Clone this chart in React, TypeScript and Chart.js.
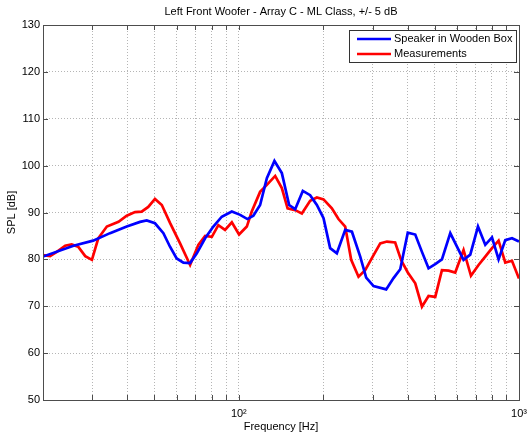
import React, { useEffect, useRef } from 'react';
import { Chart, registerables } from 'chart.js';

Chart.register(...registerables);

// ---- Data ----
const blueFreq = [20.0, 25.7, 30.2, 34.7, 39.8, 44.4, 46.9, 50.2, 53.8, 56.8, 60.0, 63.4, 67.0, 70.8, 75.8, 81.1, 86.9, 94.4, 101.1, 107.3, 112.7, 119.1, 125.9, 134.0, 142.4, 151.2, 158.9, 169.2, 179.7, 189.9, 200.6, 211.8, 223.8, 239.7, 253.3, 271.2, 284.8, 302.6, 335.7, 356.6, 376.8, 400.9, 426.3, 450.4, 475.5, 502.4, 530.8, 568.4, 600.6, 634.0, 670.0, 713.8, 757.9, 801.0, 845.5, 893.4, 944.0, 1000.0];
const blueSpl = [80.6, 82.9, 84.0, 85.6, 87.0, 88.0, 88.3, 87.7, 85.6, 82.7, 80.2, 79.3, 79.2, 81.3, 84.5, 87.0, 89.1, 90.2, 89.5, 88.6, 89.3, 91.6, 97.3, 101.0, 98.4, 91.6, 90.7, 94.6, 93.7, 91.6, 88.8, 82.4, 81.3, 86.3, 85.9, 80.6, 76.1, 74.3, 73.6, 76.0, 77.9, 85.7, 85.3, 81.6, 78.1, 79.0, 80.0, 85.6, 82.7, 79.9, 81.0, 87.0, 83.1, 84.7, 80.0, 84.1, 84.5, 83.8];

const redFreq = [20.0, 21.2, 22.4, 24.0, 25.3, 26.7, 28.3, 29.9, 31.5, 33.8, 37.2, 39.8, 42.6, 45.0, 47.5, 50.2, 53.1, 56.8, 61.7, 67.0, 71.7, 75.8, 80.1, 84.5, 89.3, 94.4, 100.2, 106.8, 111.2, 119.1, 125.9, 134.8, 142.4, 149.3, 158.9, 167.9, 179.7, 189.9, 200.6, 214.8, 226.8, 239.7, 251.8, 267.4, 282.5, 302.6, 319.7, 337.8, 361.4, 379.8, 400.9, 426.3, 450.4, 475.5, 502.4, 530.8, 560.5, 592.1, 634.0, 673.8, 717.2, 757.9, 801.0, 845.5, 893.4, 944.0, 1000.0];
const redSpl = [80.9, 80.7, 81.6, 82.9, 83.2, 82.7, 80.7, 79.9, 84.5, 87.0, 88.0, 89.3, 90.1, 90.2, 91.2, 92.9, 91.6, 87.8, 83.4, 78.8, 83.1, 85.0, 84.8, 87.3, 86.3, 87.9, 85.3, 87.0, 90.2, 94.4, 95.9, 97.8, 95.2, 90.9, 90.5, 89.8, 92.5, 93.2, 92.8, 90.9, 88.6, 87.0, 79.9, 76.3, 77.7, 80.9, 83.4, 83.8, 83.6, 79.8, 77.2, 74.9, 69.9, 72.2, 72.0, 77.7, 77.6, 77.2, 82.0, 76.5, 78.8, 80.6, 82.4, 84.0, 79.3, 79.7, 75.9];

const xTicks = [20, 30, 40, 50, 60, 70, 80, 90, 100, 200, 300, 400, 500, 600, 700, 800, 900, 1000];
const xTickLabels: Record<number, string> = { 100: '10\u00B2', 1000: '10\u00B3' };
const yTicks = [50, 60, 70, 80, 90, 100, 110, 120, 130];

const seriesNames = ['Speaker in Wooden Box', 'Measurements'];
const seriesColors = ['#0000ff', '#ff0000'];
const titleText = 'Left Front Woofer - Array C - ML Class, +/- 5 dB';
const xTitle = 'Frequency [Hz]';
const yTitle = 'SPL [dB]';

const FONT_FAMILY = '"Liberation Sans", Arial, Helvetica, sans-serif';
const FONT_SIZE = 11;

const decorPlugin = {
  id: 'decor',
  afterDraw(chart: any) {
    const { ctx, chartArea: a, scales } = chart;
    const xs = scales.x;
    const ys = scales.y;
    ctx.save();
    // axes box
    ctx.strokeStyle = '#4d4d4d';
    ctx.lineWidth = 1;
    ctx.strokeRect(Math.round(a.left) + 0.5, Math.round(a.top) + 0.5, Math.round(a.right - a.left), Math.round(a.bottom - a.top));
    // inward ticks
    ctx.beginPath();
    const tl = 5;
    xTicks.forEach((v) => {
      const px = Math.round(xs.getPixelForValue(v)) + 0.5;
      ctx.moveTo(px, a.bottom);
      ctx.lineTo(px, a.bottom - tl);
      ctx.moveTo(px, a.top);
      ctx.lineTo(px, a.top + tl);
    });
    yTicks.forEach((v) => {
      const py = Math.round(ys.getPixelForValue(v)) + 0.5;
      ctx.moveTo(a.left, py);
      ctx.lineTo(a.left + tl, py);
      ctx.moveTo(a.right, py);
      ctx.lineTo(a.right - tl, py);
    });
    ctx.stroke();

    // texts
    ctx.fillStyle = '#000';
    ctx.font = `${FONT_SIZE}px ${FONT_FAMILY}`;
    ctx.textAlign = 'center';
    ctx.textBaseline = 'middle';
    const cx = (a.left + a.right) / 2;
    ctx.fillText(titleText, cx, 12);
    ctx.fillText(xTitle, cx, 427);
    ctx.save();
    ctx.translate(12, (a.top + a.bottom) / 2);
    ctx.rotate(-Math.PI / 2);
    ctx.fillText(yTitle, 0, 0);
    ctx.restore();

    // legend
    ctx.textAlign = 'left';
    const textW = Math.max(...seriesNames.map((n) => ctx.measureText(n).width));
    const lineLen = 34;
    const boxW = Math.round(8 + lineLen + 3 + textW + 4);
    const boxH = 32;
    const bx = Math.round(a.right - 3 - boxW);
    const by = Math.round(a.top + 5);
    ctx.fillStyle = '#fff';
    ctx.fillRect(bx, by, boxW, boxH);
    ctx.strokeStyle = '#333';
    ctx.lineWidth = 1;
    ctx.strokeRect(bx + 0.5, by + 0.5, boxW, boxH);
    seriesNames.forEach((n, i) => {
      const ry = by + 9 + i * 15;
      ctx.strokeStyle = seriesColors[i];
      ctx.lineWidth = 2.5;
      ctx.beginPath();
      ctx.moveTo(bx + 8, ry);
      ctx.lineTo(bx + 8 + lineLen, ry);
      ctx.stroke();
      ctx.fillStyle = '#000';
      ctx.fillText(n, bx + 8 + lineLen + 3, ry);
    });
    ctx.restore();
  },
};

export default function App() {
  const canvasRef = useRef<HTMLCanvasElement | null>(null);

  useEffect(() => {
    const canvas = canvasRef.current;
    if (!canvas) return;
    const gridColor = '#b5b5b5';
    const chart = new Chart(canvas, {
      type: 'line',
      data: {
        datasets: [
          {
            label: seriesNames[0],
            data: blueFreq.map((f, i) => ({ x: f, y: blueSpl[i] })),
            borderColor: seriesColors[0],
            backgroundColor: seriesColors[0],
            borderWidth: 2.7,
            pointRadius: 0,
            tension: 0,
            fill: false,
          },
          {
            label: seriesNames[1],
            data: redFreq.map((f, i) => ({ x: f, y: redSpl[i] })),
            borderColor: seriesColors[1],
            backgroundColor: seriesColors[1],
            borderWidth: 2.7,
            pointRadius: 0,
            tension: 0,
            fill: false,
          },
        ],
      },
      options: {
        responsive: false,
        animation: false,
        events: [],
        layout: { padding: { top: 25, right: 11, left: 0, bottom: 0 } },
        plugins: {
          legend: { display: false },
          title: { display: false },
          tooltip: { enabled: false },
        },
        scales: {
          x: {
            type: 'logarithmic',
            min: 20,
            max: 1000,
            afterBuildTicks: (s: any) => {
              s.ticks = xTicks.map((v) => ({ value: v }));
            },
            afterFit: (s: any) => {
              s.height = 41;
              s.paddingLeft = 0;
              s.paddingRight = 0;
            },
            ticks: {
              autoSkip: false,
              maxRotation: 0,
              padding: 7,
              color: '#000',
              font: { family: FONT_FAMILY, size: FONT_SIZE },
              callback: (v: any) => xTickLabels[Number(v)] ?? '',
            },
            grid: { color: gridColor, drawTicks: false, lineWidth: 1 },
            border: { display: false, dash: [1, 2] },
          },
          y: {
            type: 'linear',
            min: 50,
            max: 130,
            afterBuildTicks: (s: any) => {
              s.ticks = yTicks.map((v) => ({ value: v }));
            },
            afterFit: (s: any) => {
              s.width = 43;
              s.paddingTop = 0;
              s.paddingBottom = 0;
            },
            ticks: {
              padding: 3,
              color: '#000',
              font: { family: FONT_FAMILY, size: FONT_SIZE },
              callback: (v: any) => String(v),
            },
            grid: { color: gridColor, drawTicks: false, lineWidth: 1 },
            border: { display: false, dash: [1, 2] },
          },
        },
      },
      plugins: [decorPlugin],
    } as any);
    return () => chart.destroy();
  }, []);

  return (
    <div style={{ position: 'fixed', left: 0, top: 0, width: 530, height: 441, background: '#fff' }}>
      <canvas ref={canvasRef} width={530} height={441} style={{ display: 'block' }} />
    </div>
  );
}
